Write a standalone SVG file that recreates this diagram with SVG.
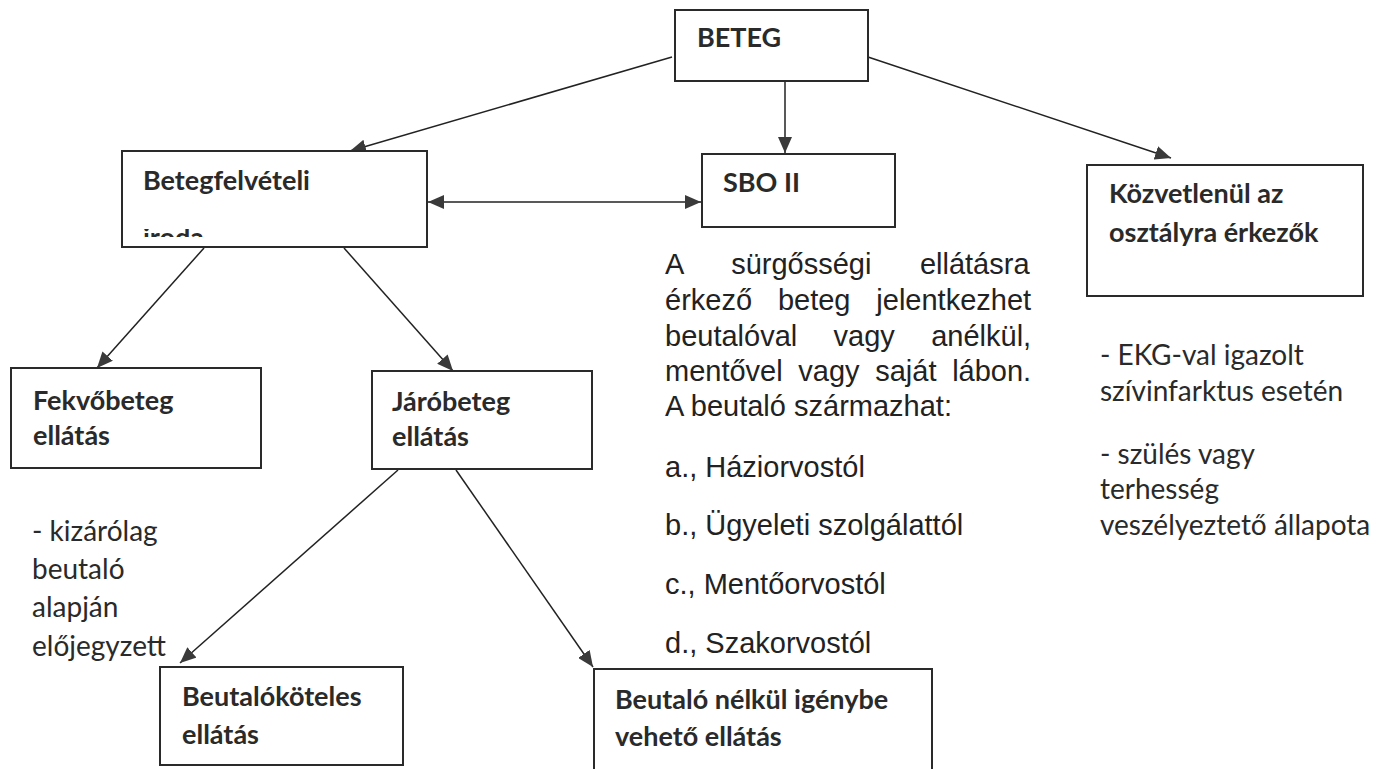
<svg xmlns="http://www.w3.org/2000/svg" width="1384" height="769" viewBox="0 0 1384 769">
<style>
.box{fill:#ffffff;stroke:#2a2a2a;stroke-width:2}
.ttl{font-family:Lato,"Liberation Sans",sans-serif;font-weight:700;font-size:27px;fill:#2a2a2a}
.note{font-family:Lato,"Liberation Sans",sans-serif;font-size:28px;fill:#2a2a2a}
.para{font-family:"Liberation Sans",Arial,sans-serif;font-size:29px;fill:#222222}
.conn{fill:none;stroke:#222222;stroke-width:1.5}
</style>
<defs>
<marker id="ah" viewBox="0 0 16 14" refX="16" refY="7" markerWidth="16" markerHeight="14" orient="auto-start-reverse" markerUnits="userSpaceOnUse">
<path d="M0,0 L16,7 L0,14 Z" fill="#3a3a3a"/>
</marker>
<clipPath id="irodaClip"><rect x="138" y="229" width="90" height="8"/></clipPath>
</defs>
<rect width="1384" height="769" fill="#ffffff"/>

<g id="connectors">
<line class="conn" x1="672" y1="57" x2="350" y2="151" marker-end="url(#ah)"/>
<line class="conn" x1="785" y1="82" x2="785" y2="153" marker-end="url(#ah)"/>
<line class="conn" x1="868" y1="57" x2="1171" y2="158" marker-end="url(#ah)"/>
<line class="conn" x1="428" y1="202" x2="701" y2="202" marker-start="url(#ah)" marker-end="url(#ah)"/>
<line class="conn" x1="204" y1="248" x2="97" y2="368" marker-end="url(#ah)"/>
<line class="conn" x1="344" y1="248" x2="453" y2="371" marker-end="url(#ah)"/>
<line class="conn" x1="398" y1="470" x2="180" y2="663" marker-end="url(#ah)"/>
<line class="conn" x1="456" y1="470" x2="593" y2="667" marker-end="url(#ah)"/>
</g>

<g id="node-beteg">
<rect class="box" x="675" y="10" width="193" height="71"/>
<text class="ttl" x="697" y="47">BETEG</text>
</g>

<g id="node-betegfelveteli">
<rect class="box" x="122" y="151" width="305" height="96"/>
<text class="ttl" x="143" y="190">Betegfelvételi</text>
<text class="ttl" x="143" y="247" clip-path="url(#irodaClip)">iroda</text>
</g>

<g id="node-sbo">
<rect class="box" x="702" y="154" width="193" height="73"/>
<text class="ttl" x="723" y="192">SBO II</text>
</g>

<g id="node-kozvetlenul">
<rect class="box" x="1087" y="165" width="276" height="131"/>
<text class="ttl" x="1109" y="203">Közvetlenül az</text>
<text class="ttl" x="1109" y="242">osztályra érkezők</text>
</g>

<g id="node-fekvobeteg">
<rect class="box" x="11" y="368" width="250" height="100"/>
<text class="ttl" x="33" y="410">Fekvőbeteg</text>
<text class="ttl" x="33" y="445">ellátás</text>
</g>

<g id="node-jarobeteg">
<rect class="box" x="372" y="371" width="220" height="98"/>
<text class="ttl" x="392" y="411">Járóbeteg</text>
<text class="ttl" x="392" y="446">ellátás</text>
</g>

<g id="node-beutalokoteles">
<rect class="box" x="160" y="667" width="243" height="98"/>
<text class="ttl" x="182" y="706">Beutalóköteles</text>
<text class="ttl" x="182" y="744">ellátás</text>
</g>

<g id="node-beutalo-nelkul">
<rect class="box" x="594" y="669" width="338" height="120"/>
<text class="ttl" x="615" y="709">Beutaló nélkül igénybe</text>
<text class="ttl" x="615" y="746">vehető ellátás</text>
</g>

<g id="note-fekvo">
<text class="note" x="32" y="541">- kizárólag</text>
<text class="note" x="32" y="579">beutaló</text>
<text class="note" x="32" y="617">alapján</text>
<text class="note" x="32" y="656">előjegyzett</text>
</g>

<g id="note-sbo">
<text class="para" x="665" y="274" word-spacing="40.4">A sürgősségi ellátásra</text>
<text class="para" x="665" y="310" word-spacing="17.8">érkező beteg jelentkezhet</text>
<text class="para" x="665" y="346" word-spacing="28.3">beutalóval vagy anélkül,</text>
<text class="para" x="665" y="381" word-spacing="7.6">mentővel vagy saját lábon.</text>
<text class="para" x="665" y="416">A beutaló származhat:</text>
<text class="para" x="665" y="477">a., Háziorvostól</text>
<text class="para" x="665" y="535">b., Ügyeleti szolgálattól</text>
<text class="para" x="665" y="594">c., Mentőorvostól</text>
<text class="para" x="665" y="653">d., Szakorvostól</text>
</g>

<g id="note-kozvetlenul">
<text class="note" x="1100" y="365">- EKG-val igazolt</text>
<text class="note" x="1100" y="401">szívinfarktus esetén</text>
<text class="note" x="1100" y="464">- szülés vagy</text>
<text class="note" x="1100" y="499">terhesség</text>
<text class="note" x="1100" y="535">veszélyeztető állapota</text>
</g>
</svg>
